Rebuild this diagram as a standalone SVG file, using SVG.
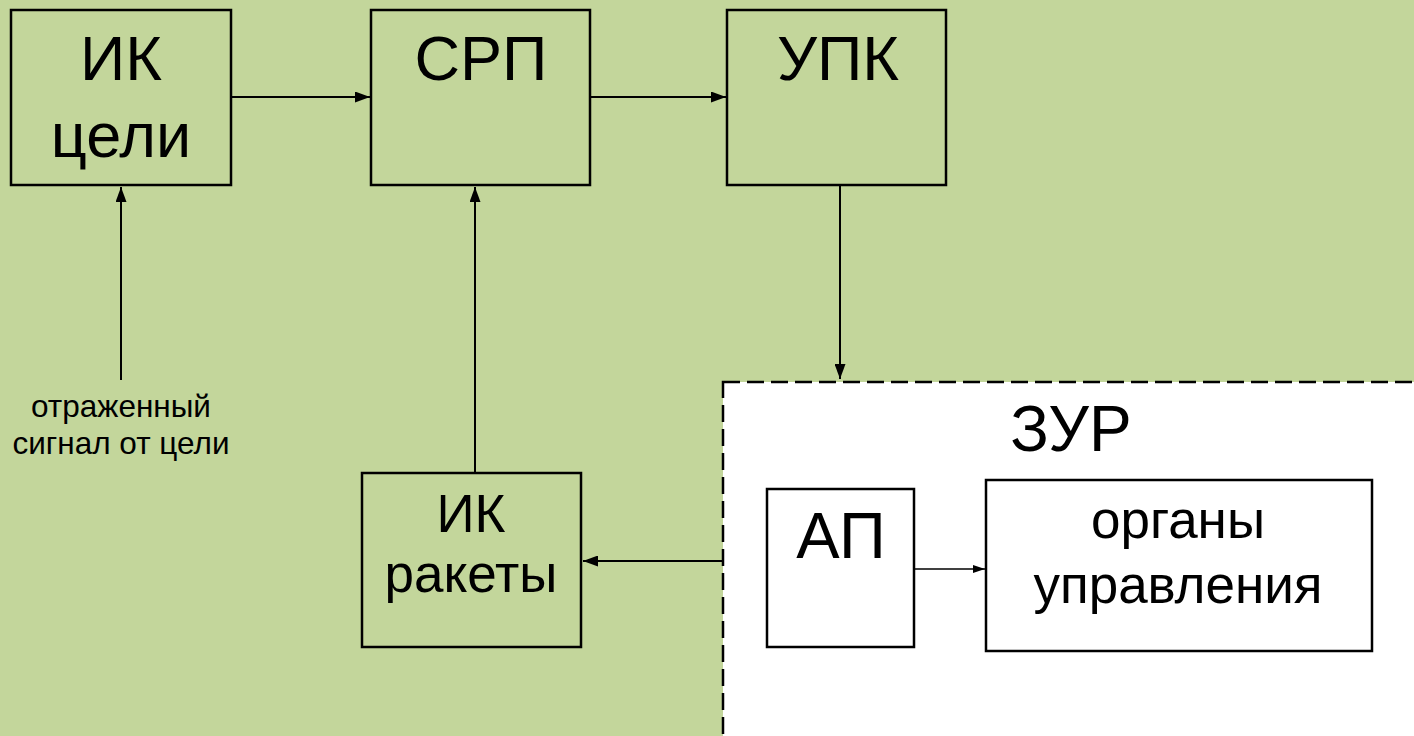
<svg xmlns="http://www.w3.org/2000/svg" width="1414" height="736" viewBox="0 0 1414 736">
  <defs>
    <marker id="arrow" viewBox="0 0 10 10" refX="10" refY="5" markerWidth="15" markerHeight="11" markerUnits="userSpaceOnUse" orient="auto" preserveAspectRatio="none">
      <path d="M0,0 L10,5 L0,10 Z" fill="#000"/>
    </marker>
    <marker id="arrow-small" viewBox="0 0 10 10" refX="10" refY="5" markerWidth="12" markerHeight="8" markerUnits="userSpaceOnUse" orient="auto" preserveAspectRatio="none">
      <path d="M0,0 L10,5 L0,10 Z" fill="#000"/>
    </marker>
    <style>
      .box { fill: #c3d69b; stroke: #000; stroke-width: 2.5; }
      .wbox { fill: #fff; stroke: #000; stroke-width: 2.5; }
      .group { fill: #fff; stroke: #000; stroke-width: 2.5; stroke-dasharray: 17 7; }
      .link { fill: none; stroke: #000; stroke-width: 2; marker-end: url(#arrow); }
      .link-thin { fill: none; stroke: #000; stroke-width: 1.5; marker-end: url(#arrow-small); }
      text { font-family: "Liberation Sans", Arial, sans-serif; fill: #000; text-anchor: middle; }
      .big { font-size: 63px; }
      .mid { font-size: 53px; }
      .note { font-size: 31.5px; }
    </style>
  </defs>

  <rect width="1414" height="736" fill="#c3d69b"/>

  <!-- missile boundary -->
  <g id="zur">
    <rect class="group" x="723" y="382" width="720" height="380"/>
    <text x="1071" y="451" style="font-size:64px">ЗУР</text>
  </g>

  <g id="ik-target">
    <rect class="box" x="11" y="10" width="220" height="175"/>
    <text class="big" x="121" y="80">ИК</text>
    <text class="big" x="121" y="157">цели</text>
  </g>

  <g id="srp">
    <rect class="box" x="371" y="10" width="219" height="175"/>
    <text class="big" x="481" y="80">СРП</text>
  </g>

  <g id="upk">
    <rect class="box" x="727" y="10" width="219" height="175"/>
    <text class="big" x="838" y="80">УПК</text>
  </g>

  <g id="ik-missile">
    <rect class="box" x="362" y="473" width="219" height="174"/>
    <text class="mid" x="471" y="532">ИК</text>
    <text class="mid" x="471" y="592">ракеты</text>
  </g>

  <g id="ap">
    <rect class="wbox" x="767" y="489" width="147" height="158"/>
    <text x="841" y="558" style="font-size:65px">АП</text>
  </g>

  <g id="controls">
    <rect class="wbox" x="986" y="480" width="386" height="171"/>
    <text class="mid" x="1178" y="538">органы</text>
    <text class="mid" x="1178" y="603">управления</text>
  </g>

  <g id="signal-label">
    <text class="note" x="121" y="417">отраженный</text>
    <text class="note" x="121" y="454">сигнал от цели</text>
  </g>

  <g id="connectors">
    <line class="link" x1="232" y1="97" x2="370" y2="97"/>
    <line class="link" x1="591" y1="97" x2="726" y2="97"/>
    <line class="link" x1="840" y1="186" x2="840" y2="379"/>
    <line class="link" x1="121" y1="380" x2="121" y2="187"/>
    <line class="link" x1="475" y1="472" x2="475" y2="187"/>
    <line class="link" x1="722" y1="561" x2="583" y2="561"/>
    <line class="link-thin" x1="915" y1="569" x2="985" y2="569"/>
  </g>
</svg>
